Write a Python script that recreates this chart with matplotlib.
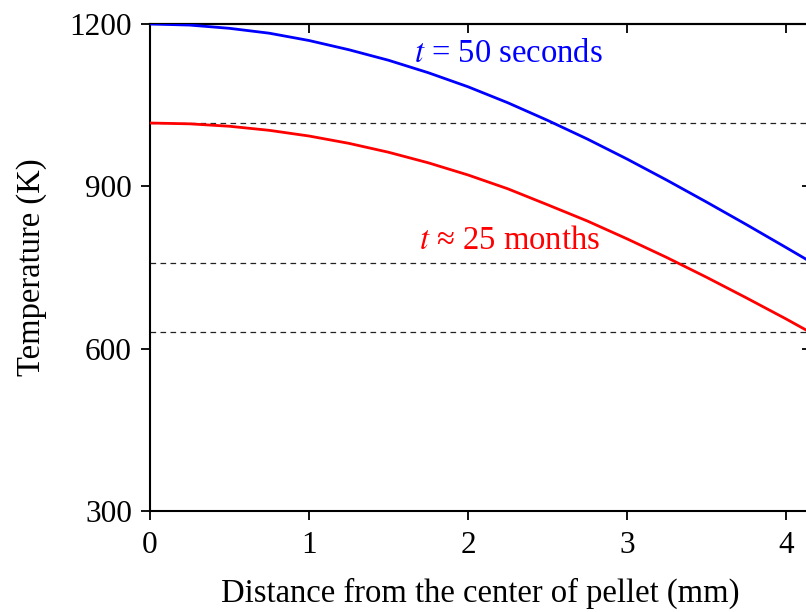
import matplotlib
matplotlib.use("Agg")
import matplotlib.pyplot as plt

plt.rcParams["font.family"] = ["Liberation Serif", "DejaVu Serif"]
plt.rcParams["mathtext.fontset"] = "stix"

# Radial temperature profiles across the fuel pellet
distance_mm = [0.0, 0.25, 0.5, 0.75, 1.0, 1.25, 1.5, 1.75, 2.0, 2.25,
               2.5, 2.75, 3.0, 3.25, 3.5, 3.75, 4.0, 4.16]
temp_50s = [1200, 1198, 1192, 1183, 1169.5, 1152.5, 1133, 1110, 1084, 1054.5,
            1022, 987.5, 950.5, 911.5, 871, 829.5, 787, 759.5]
temp_25mo = [1017, 1015.5, 1011, 1003.5, 993, 979.5, 963, 943.5, 921, 895.5,
             866, 836, 803, 768.5, 732, 694, 655, 629]

# Reference temperature levels (dashed)
ref_levels = [1017, 758, 630]

x_ticks = [0, 1, 2, 3, 4]
y_ticks = [300, 600, 900, 1200]

W, H = 806, 612
fig = plt.figure(figsize=(W / 100, H / 100), dpi=100)
ax_left, ax_bottom = 150 / W, 1 - 511 / H
ax_h = (511 - 24) / H
x_max = 4.16
ax_w = x_max * 159 / W
ax = fig.add_axes([ax_left, ax_bottom, ax_w, ax_h])

for lvl in ref_levels:
    ax.axhline(lvl, color="#222222", lw=0.9, ls=(0, (4.5, 3.5)), zorder=1)

ax.plot(distance_mm, temp_50s, color="#0000ff", lw=2.0, zorder=3)
ax.plot(distance_mm, temp_25mo, color="#ff0000", lw=2.0, zorder=3)

ax.set_xlim(0, x_max)
ax.set_ylim(300, 1200)
ax.set_xticks(x_ticks)
ax.set_yticks(y_ticks)

for s in ax.spines.values():
    s.set_linewidth(1.5)

ax.tick_params(axis="both", which="major", direction="out", length=6.5,
               width=1.3, labelsize=22.5, top=False, right=False)
ax.tick_params(axis="x", pad=8)
ax.tick_params(axis="y", pad=6.5)

# Inward ticks on the top and right edges
top = ax.secondary_xaxis("top")
top.set_xticks(x_ticks)
top.tick_params(direction="in", length=6.5, width=1.3, labeltop=False)
top.spines["top"].set_linewidth(1.5)
right = ax.secondary_yaxis("right")
right.set_yticks(y_ticks)
right.tick_params(direction="in", length=6.5, width=1.3, labelright=False)
right.spines["right"].set_linewidth(1.5)

ax.set_xlabel("Distance from the center of pellet (mm)", fontsize=23.5, labelpad=13)
ax.set_ylabel("Temperature (K)", fontsize=23.5, labelpad=16)

ax.text(1.66, 1129, "$t$ = 50 seconds", color="#0000ff", fontsize=23.5,
        ha="left", va="baseline")
ax.text(1.69, 784, "$t$ \u2248 25 months", color="#ff0000", fontsize=23.5,
        ha="left", va="baseline")

fig.savefig("out.png", dpi=100)
